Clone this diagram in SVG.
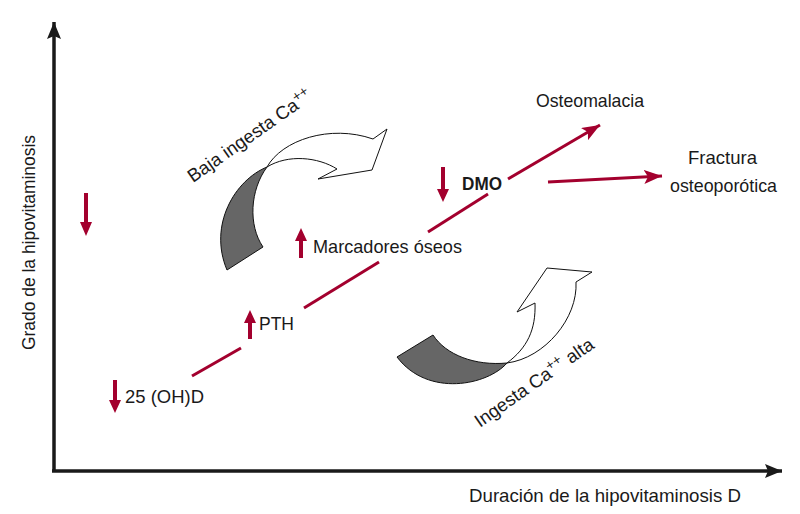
<svg xmlns="http://www.w3.org/2000/svg" width="800" height="514" viewBox="0 0 800 514">
<defs>
<style>
text{font-family:"Liberation Sans",Arial,sans-serif;font-size:18.5px;fill:#1a1a1a}
.axis{stroke:#1a1a1a;stroke-width:3.5;fill:none}
.red{stroke:#a3002e;stroke-width:3;fill:none}
.redfill{fill:#a3002e}
.gray{fill:#666;stroke:#111;stroke-width:1}
.white{fill:#fff;stroke:#111;stroke-width:1}
.sup{font-size:14px}
</style>
<marker id="ah" markerUnits="userSpaceOnUse" markerWidth="20" markerHeight="14" refX="18" refY="7" orient="auto">
<path d="M0,0 L18,7 L0,14 L4,7 Z" fill="#a3002e"/>
</marker>
<marker id="axh" markerUnits="userSpaceOnUse" markerWidth="18" markerHeight="14" refX="17" refY="7" orient="auto">
<path d="M0,0 L17,7 L0,14 L3,7 Z" fill="#1a1a1a"/>
</marker>
</defs>
<rect width="800" height="514" fill="#fff"/>

<g id="axes">
<path class="axis" d="M54,471 L54,22" marker-end="url(#axh)"/>
<path class="axis" d="M52,471 L782,471" marker-end="url(#axh)"/>
<text transform="translate(35,350) rotate(-90)" textLength="215" lengthAdjust="spacingAndGlyphs" style="font-size:18px">Grado de la hipovitaminosis</text>
<text x="469" y="502" textLength="272" lengthAdjust="spacingAndGlyphs" style="font-size:19px">Duración de la hipovitaminosis D</text>
</g>

<g id="connectors">
<line class="red" x1="192" y1="376" x2="241" y2="348"/>
<line class="red" x1="304" y1="308" x2="379" y2="262"/>
<line class="red" x1="428" y1="232" x2="488" y2="194"/>
<line class="red" x1="508" y1="179" x2="600" y2="125" marker-end="url(#ah)"/>
<line class="red" x1="548" y1="182" x2="662" y2="176" marker-end="url(#ah)"/>
</g>

<g id="arrow-left">
<path class="redfill" d="M84,193 L88,193 L88,222 L92,222 L86,236 L80,222 L84,222 Z"/>
</g>

<g id="n-25ohd">
<path class="redfill" d="M113,380 L117,380 L117,400 L121,400 L115,413 L109,400 L113,400 Z"/>
<text x="125" y="403" textLength="79" lengthAdjust="spacingAndGlyphs">25 (OH)D</text>
</g>

<g id="n-pth">
<path class="redfill" d="M248,339 L252,339 L252,323 L256,323 L250,310 L244,323 L248,323 Z"/>
<text x="259" y="330" textLength="35" lengthAdjust="spacingAndGlyphs">PTH</text>
</g>

<g id="n-marcadores">
<path class="redfill" d="M299,258 L303,258 L303,241 L307,241 L301,228 L295,241 L299,241 Z"/>
<text x="313" y="253" textLength="149" lengthAdjust="spacingAndGlyphs">Marcadores óseos</text>
</g>

<g id="n-dmo">
<path class="redfill" d="M441,167 L445,167 L445,189 L449,189 L443,202 L437,189 L441,189 Z"/>
<text x="462" y="190" textLength="40" lengthAdjust="spacingAndGlyphs" style="font-weight:bold">DMO</text>
</g>

<g id="n-osteomalacia">
<text x="536" y="107" textLength="108" lengthAdjust="spacingAndGlyphs">Osteomalacia</text>
</g>

<g id="n-fractura">
<text x="688" y="164" textLength="69" lengthAdjust="spacingAndGlyphs">Fractura</text>
<text x="670" y="192" textLength="107" lengthAdjust="spacingAndGlyphs">osteoporótica</text>
</g>

<g id="n-baja">
<path class="white" d="M267,167 C282,140 330,124 373,139 L387,129 L372,170 L318,179 L337,169 C318,157 288,154 267,167 Z"/>
<path class="gray" d="M267,167 C235,180 208,225 227,270 L263,247 C248,225 250,190 267,167 Z"/>
<text transform="translate(193,183) rotate(-35)">Baja ingesta Ca<tspan class="sup" dy="-7">++</tspan></text>
</g>

<g id="n-alta">
<path class="white" d="M507,363 C527,348 536,330 535,303 L517,312 L547,268 L592,272 L576,282 C578,318 545,358 507,363 Z"/>
<path class="gray" d="M397,357 L433,335 C446,355 475,366 507,363 C488,385 428,398 397,357 Z"/>
<text transform="translate(480,428) rotate(-35)">Ingesta Ca<tspan class="sup" dy="-7">++</tspan><tspan dy="7"> alta</tspan></text>
</g>
</svg>
